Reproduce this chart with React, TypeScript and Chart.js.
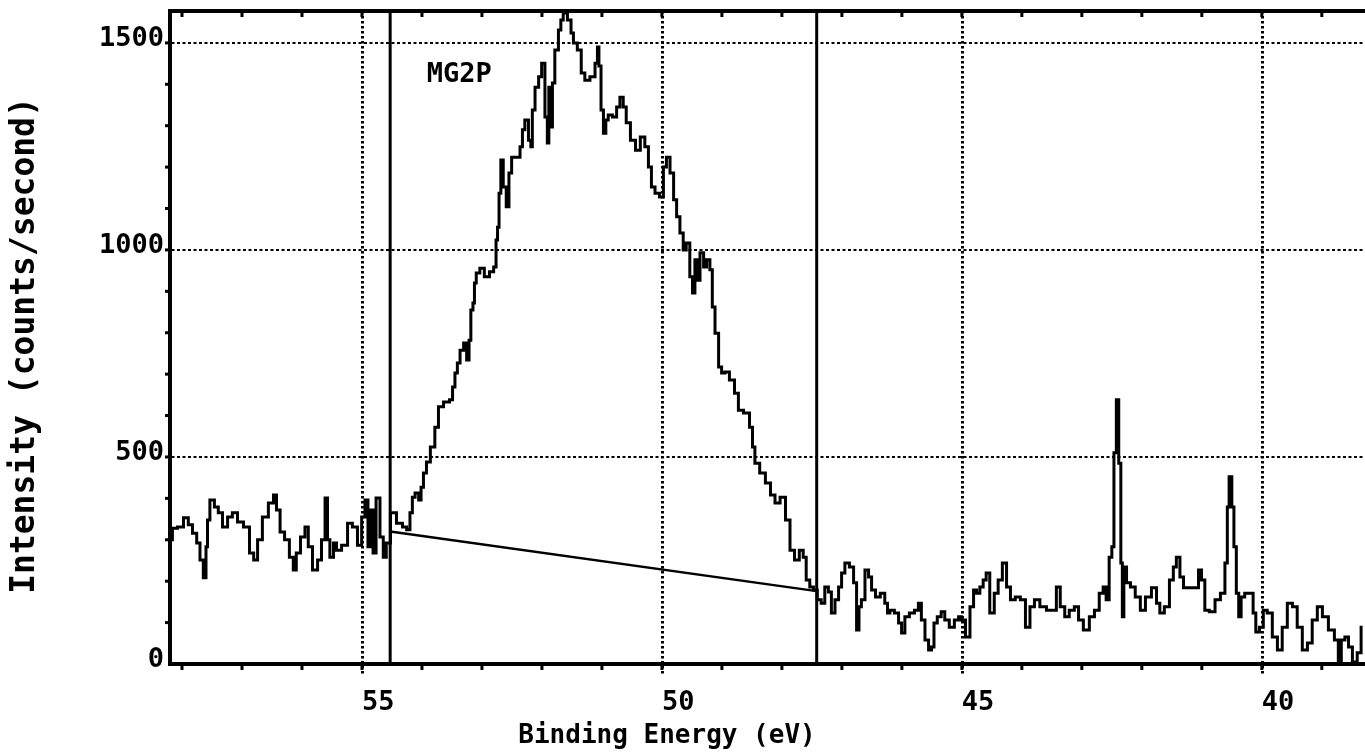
import React, { useEffect, useRef } from "react";
import { Chart, registerables } from "chart.js";

Chart.register(...registerables);

// Binding energy (eV) of each recorded channel, high to low
const energies = [
  58.2, 58.12, 58.03, 57.92, 57.87, 57.78, 57.73, 57.67, 57.62, 57.58, 57.57, 57.5, 57.42, 57.37, 57.28, 57.2,
  57.12, 57.03, 56.92, 56.83, 56.78, 56.7, 56.62, 56.5, 56.45, 56.4, 56.33, 56.25, 56.17, 56.12, 56.07, 55.98,
  55.92, 55.87, 55.78, 55.7, 55.65, 55.58, 55.57, 55.5, 55.45, 55.4, 55.28, 55.2, 55.12, 55.03, 54.98, 54.92,
  54.88, 54.83, 54.8, 54.73, 54.67, 54.62, 54.57,
  54.48, 54.37, 54.28, 54.23, 54.17, 54.15, 54.08, 54.03, 54.0, 53.95, 53.9, 53.82, 53.75, 53.7, 53.58, 53.5,
  53.48, 53.42, 53.4, 53.33, 53.28, 53.23, 53.2, 53.17, 53.13, 53.12, 53.07, 53.0, 52.92, 52.83, 52.78, 52.75,
  52.73, 52.7, 52.67, 52.62, 52.57, 52.53, 52.48, 52.4, 52.33, 52.32, 52.25, 52.2, 52.17, 52.15, 52.08, 52.03,
  51.98, 51.92, 51.9, 51.87, 51.83, 51.82, 51.75, 51.7, 51.67, 51.62, 51.53, 51.5, 51.45, 51.37, 51.32, 51.25,
  51.15, 51.08, 51.07, 51.03, 51.0, 50.95, 50.92, 50.87, 50.78, 50.73, 50.67, 50.62, 50.57, 50.48, 50.4, 50.32,
  50.25, 50.2, 50.15, 50.08, 50.0, 49.95, 49.9, 49.83, 49.78, 49.73, 49.67, 49.62, 49.57, 49.5, 49.48, 49.42,
  49.4, 49.33, 49.28, 49.23, 49.17, 49.15, 49.08, 49.03, 48.98, 48.92, 48.83, 48.75, 48.7, 48.58, 48.5, 48.48,
  48.42, 48.32, 48.23, 48.15, 48.08, 47.98, 47.9, 47.83, 47.75, 47.67, 47.62, 47.57, 47.5,
  47.45, 47.37, 47.32, 47.25, 47.2, 47.15, 47.08, 47.03, 46.98, 46.92, 46.83, 46.78, 46.73, 46.7, 46.65, 46.58,
  46.53, 46.48, 46.4, 46.32, 46.25, 46.23, 46.17, 46.08, 46.03, 45.98, 45.92, 45.83, 45.75, 45.7, 45.65, 45.58,
  45.53, 45.48, 45.45, 45.37, 45.32, 45.25, 45.17, 45.08, 45.03, 44.98, 44.9, 44.83, 44.78, 44.73, 44.67, 44.62,
  44.57, 44.5, 44.42, 44.37, 44.28, 44.23, 44.15, 44.07, 43.98, 43.9, 43.83, 43.75, 43.65, 43.53, 43.45, 43.4,
  43.32, 43.25, 43.17, 43.08, 43.03, 42.92,
  42.83, 42.75, 42.67, 42.62, 42.57, 42.52, 42.48, 42.45, 42.4, 42.37, 42.33, 42.32, 42.28, 42.23, 42.15, 42.07,
  41.98, 41.9, 41.78, 41.73, 41.67, 41.58, 41.5, 41.45, 41.4, 41.33, 41.28, 41.17, 41.08, 41.03, 40.98, 40.92,
  40.83, 40.73, 40.65, 40.58, 40.57, 40.52, 40.48, 40.45, 40.4, 40.37, 40.32, 40.25, 40.17, 40.12, 40.08, 40.0,
  39.95, 39.87, 39.78, 39.7, 39.62, 39.53, 39.45, 39.37, 39.28, 39.2, 39.12, 39.03, 38.95, 38.83, 38.75, 38.7,
  38.65, 38.58, 38.53, 38.45, 38.37, 38.32,
];

// Intensity (counts/second) for each energy above
const counts = [
  300, 328, 331, 353, 336, 316, 292, 251, 208, 283, 348, 396, 379, 365, 331, 355,
  365, 343, 331, 268, 251, 300, 355, 389, 408, 372, 319, 300, 258, 227, 268, 307,
  331, 283, 227, 251, 300, 401, 300, 258, 292, 275, 287, 340, 331, 287, 355, 396,
  283, 372, 268, 401, 307, 258, 292,
  365, 340, 331, 324, 365, 403, 413, 396, 427, 461, 488, 524, 572, 621, 633, 638,
  669, 703, 727, 758, 775, 734, 782, 855, 872, 920, 944, 956, 935, 947, 959, 1024,
  1055, 1137, 1217, 1152, 1104, 1186, 1224, 1224, 1249, 1290, 1314, 1265, 1249, 1338, 1393, 1418,
  1451, 1321, 1258, 1393, 1297, 1403, 1483, 1531, 1555, 1572, 1555, 1524, 1500, 1483, 1427, 1410,
  1418, 1451, 1490, 1444, 1338, 1282, 1314, 1326, 1321, 1345, 1369, 1345, 1307, 1265, 1241, 1273,
  1249, 1200, 1152, 1137, 1128, 1200, 1224, 1186, 1121, 1080, 1041, 1000, 1017, 935, 896, 976,
  927, 993, 959, 976, 952, 862, 799, 717, 703, 705, 686, 654, 613, 606, 572, 524,
  485, 461, 437, 408, 389, 403, 348, 275, 251, 275, 258, 203, 186,
  179, 155, 147, 186, 174, 123, 155, 186, 220, 244, 234, 196, 82, 138, 155, 227,
  210, 179, 162, 171, 147, 123, 130, 123, 99, 75, 114, 123, 130, 147, 106, 58,
  34, 41, 99, 114, 126, 106, 89, 106, 114, 106, 65, 138, 179, 171, 186, 203,
  220, 123, 171, 203, 244, 186, 155, 162, 155, 89, 138, 155, 138, 130, 130, 186,
  138, 114, 130, 138, 106, 82,
  114, 130, 171, 186, 155, 258, 283, 510, 638, 485, 244, 114, 234, 196, 186, 162,
  130, 162, 184, 147, 123, 138, 203, 234, 258, 210, 184, 184, 184, 227, 203, 130,
  126, 155, 171, 244, 379, 452, 379, 283, 171, 114, 162, 171, 171, 123, 77, 89,
  130, 123, 65, 34, 89, 147, 138, 89, 34, 51, 106, 138, 114, 82, 58, 2,
  58, 65, 41, 5, 27, 89,
];

// Linear background under the Mg 2p peak
const baselineEnergies = [54.53, 47.42];
const baselineCounts = [320, 176];

// Integration region limits (eV)
const regionLimits = [54.53, 47.42];

const xTicks = [55, 50, 45, 40];
const yTicks = [0, 500, 1000, 1500];
const xMinorTicks = [58, 57, 56, 55, 54, 53, 52, 51, 50, 49, 48, 47, 46, 45, 44, 43, 42, 41, 40, 39];
const yMinorTicks = [100, 200, 300, 400, 500, 600, 700, 800, 900, 1000, 1100, 1200, 1300, 1400, 1500];

const X_LOW = 38.28;
const X_HIGH = 58.2;
const Y_LOW = 0;
const Y_HIGH = 1577;

const peakLabel = "MG2P";
const peakLabelEnergy = 53.92;
const peakLabelCounts = 1405;
const xTitle = "Binding Energy (eV)";
const yTitle = "Intensity (counts/second)";

const FONT = '"DejaVu Sans Mono", "Liberation Mono", monospace';

const decorPlugin = {
  id: "xpsDecor",
  beforeDatasetsDraw(chart: any) {
    const { ctx, chartArea, scales } = chart;
    const xs = scales.x;
    const ys = scales.y;
    ctx.save();
    ctx.strokeStyle = "#000";
    // dotted vertical grid
    ctx.lineWidth = 3;
    ctx.setLineDash([2.5, 2.5]);
    xTicks.forEach((v) => {
      const px = Math.round(xs.getPixelForValue(v)) + 0.5;
      ctx.beginPath();
      ctx.moveTo(px, chartArea.top);
      ctx.lineTo(px, chartArea.bottom + 10);
      ctx.stroke();
    });
    // dotted horizontal grid
    ctx.lineWidth = 2;
    ctx.setLineDash([3, 2.5]);
    yTicks.forEach((v) => {
      if (v === 0) return;
      const py = Math.round(ys.getPixelForValue(v));
      ctx.beginPath();
      ctx.moveTo(chartArea.left - 4, py);
      ctx.lineTo(chartArea.right, py);
      ctx.stroke();
    });
    ctx.restore();
  },
  afterDraw(chart: any) {
    const { ctx, chartArea, scales } = chart;
    const xs = scales.x;
    const ys = scales.y;
    ctx.save();
    ctx.strokeStyle = "#000";
    ctx.fillStyle = "#000";
    ctx.setLineDash([]);
    // frame: top, left, bottom
    ctx.lineWidth = 4;
    ctx.beginPath();
    ctx.moveTo(chartArea.right + 2, chartArea.top);
    ctx.lineTo(chartArea.left, chartArea.top);
    ctx.lineTo(chartArea.left, chartArea.bottom);
    ctx.lineTo(chartArea.right + 2, chartArea.bottom);
    ctx.stroke();
    // minor ticks
    ctx.lineWidth = 3;
    xMinorTicks.forEach((v) => {
      const px = xs.getPixelForValue(v);
      ctx.beginPath();
      ctx.moveTo(px, chartArea.top);
      ctx.lineTo(px, chartArea.top + 6);
      ctx.moveTo(px, chartArea.bottom);
      ctx.lineTo(px, chartArea.bottom + 6);
      ctx.stroke();
    });
    yMinorTicks.forEach((v) => {
      const py = ys.getPixelForValue(v);
      ctx.beginPath();
      ctx.moveTo(chartArea.left, py);
      ctx.lineTo(chartArea.left - 5, py);
      ctx.stroke();
    });
    // tick labels
    ctx.font = `bold 27px ${FONT}`;
    ctx.textBaseline = "alphabetic";
    ctx.textAlign = "right";
    yTicks.forEach((v) => {
      const py = ys.getPixelForValue(v);
      ctx.fillText(String(v), chartArea.left - 6, py + 3);
    });
    ctx.textAlign = "left";
    xTicks.forEach((v) => {
      const px = xs.getPixelForValue(v);
      ctx.fillText(String(v), px, chartArea.bottom + 46);
    });
    // axis titles
    ctx.font = `bold 26px ${FONT}`;
    ctx.textAlign = "center";
    ctx.fillText(xTitle, chartArea.left + 497, chartArea.bottom + 79);
    ctx.save();
    ctx.font = `bold 33px ${FONT}`;
    ctx.translate(34, (chartArea.top + chartArea.bottom) / 2 + 8);
    ctx.rotate(-Math.PI / 2);
    ctx.fillText(yTitle, 0, 0);
    ctx.restore();
    // peak label
    ctx.font = `bold 27px ${FONT}`;
    ctx.textAlign = "left";
    ctx.fillText(peakLabel, xs.getPixelForValue(peakLabelEnergy), ys.getPixelForValue(peakLabelCounts));
    ctx.restore();
  },
};

export default function App() {
  const canvasRef = useRef<HTMLCanvasElement | null>(null);

  useEffect(() => {
    if (!canvasRef.current) return;
    const spectrum = energies.map((e, i) => ({ x: e, y: counts[i] }));
    const background = baselineEnergies.map((e, i) => ({ x: e, y: baselineCounts[i] }));
    const limitSets = regionLimits.map((e) => ({
      data: [
        { x: e, y: Y_LOW },
        { x: e, y: Y_HIGH },
      ],
      borderColor: "#000",
      borderWidth: 3,
      pointRadius: 0,
      fill: false,
    }));
    const chart = new Chart(canvasRef.current, {
      type: "line",
      data: {
        datasets: [
          {
            data: spectrum,
            borderColor: "#000",
            borderWidth: 3,
            pointRadius: 0,
            fill: false,
            stepped: "middle",
          } as any,
          {
            data: background,
            borderColor: "#000",
            borderWidth: 2.5,
            pointRadius: 0,
            fill: false,
          },
          ...limitSets,
        ],
      },
      options: {
        responsive: false,
        animation: false,
        devicePixelRatio: 1,
        layout: { padding: { top: 11, left: 0, right: 0, bottom: 0 } },
        plugins: {
          legend: { display: false },
          tooltip: { enabled: false },
          title: { display: false },
        },
        scales: {
          x: {
            type: "linear",
            reverse: true,
            min: X_LOW,
            max: X_HIGH,
            grid: { display: false },
            border: { display: false },
            ticks: { display: false },
            afterFit: (s: any) => {
              s.height = 88;
            },
          },
          y: {
            type: "linear",
            min: Y_LOW,
            max: Y_HIGH,
            grid: { display: false },
            border: { display: false },
            ticks: { display: false },
            afterFit: (s: any) => {
              s.width = 170;
            },
          },
        },
      },
      plugins: [decorPlugin],
    });
    return () => chart.destroy();
  }, []);

  return (
    <div style={{ position: "absolute", left: 0, top: 0, width: 1365, height: 752, background: "#fff" }}>
      <canvas ref={canvasRef} width={1365} height={752} style={{ display: "block" }} />
    </div>
  );
}
